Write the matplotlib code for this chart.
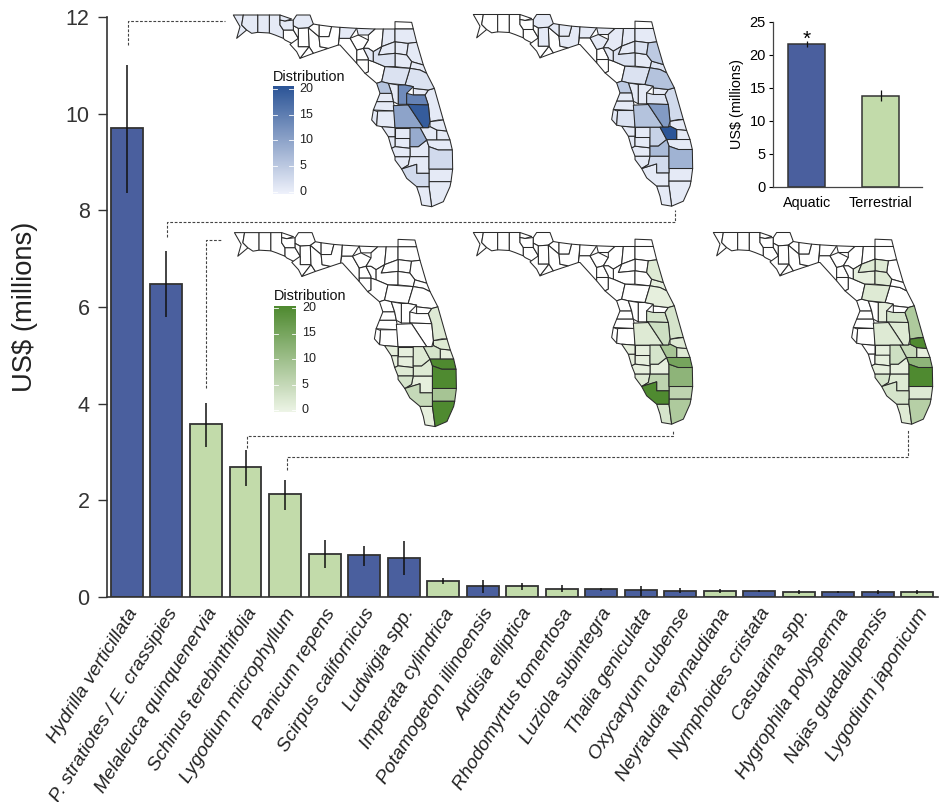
import numpy as np
import matplotlib
matplotlib.use('Agg')
import matplotlib.pyplot as plt
from matplotlib.collections import PolyCollection
from matplotlib.colors import LinearSegmentedColormap

plt.rcParams['font.family'] = ['Liberation Sans', 'DejaVu Sans']

# main bar chart
species = ['Hydrilla verticillata', 'P. stratiotes / E. crassipies', 'Melaleuca quinquenervia',
           'Schinus terebinthifolia', 'Lygodium microphyllum', 'Panicum repens',
           'Scirpus californicus', 'Ludwigia spp.', 'Imperata cylindrica',
           'Potamogeton illinoensis', 'Ardisia elliptica', 'Rhodomyrtus tomentosa',
           'Luziola subintegra', 'Thalia geniculata', 'Oxycaryum cubense',
           'Neyraudia reynaudiana', 'Nymphoides cristata', 'Casuarina spp.',
           'Hygrophila polysperma', 'Najas guadalupensis', 'Lygodium japonicum']
cost = [9.7, 6.47, 3.57, 2.7, 2.13, 0.89, 0.87, 0.8, 0.33, 0.22, 0.22,
        0.17, 0.16, 0.14, 0.13, 0.12, 0.12, 0.1, 0.1, 0.1, 0.1]
err_low = [8.35, 5.8, 3.1, 2.3, 1.8, 0.6, 0.65, 0.45, 0.27, 0.08, 0.15,
           0.1, 0.13, 0.03, 0.08, 0.08, 0.1, 0.07, 0.08, 0.06, 0.06]
err_high = [11.0, 7.15, 4.02, 3.05, 2.43, 1.18, 1.05, 1.15, 0.4, 0.35, 0.28,
            0.24, 0.19, 0.22, 0.19, 0.17, 0.14, 0.15, 0.13, 0.14, 0.14]
habitat = ['a', 'a', 't', 't', 't', 't', 'a', 'a', 't', 'a', 't',
           't', 'a', 'a', 'a', 't', 'a', 't', 'a', 'a', 't']

# inset
inset_groups = ['Aquatic', 'Terrestrial']
inset_cost = [21.6, 13.8]
inset_err = [0.5, 0.8]

BLUE = '#4A5F9E'
GREEN = '#C2DBAA'
EDGE = '#333333'

# simplified county shapes, map units
counties = {
    'Escambia': [(25,30),(55,30),(50,60),(65,75),(35,100),(45,65)],
    'SantaRosa': [(55,30),(98,30),(98,82),(80,85),(65,75),(50,60)],
    'Okaloosa': [(98,30),(133,30),(133,84),(98,82)],
    'Walton': [(133,30),(165,30),(165,60),(175,75),(175,100),(150,90),(133,84)],
    'Holmes': [(165,30),(200,42),(180,48),(165,45)],
    'Washington': [(165,45),(180,48),(205,45),(205,75),(175,75),(165,60)],
    'Bay': [(175,75),(205,75),(220,100),(220,125),(180,105),(175,100)],
    'Jackson': [(205,45),(215,30),(255,30),(265,57),(250,68),(220,70),(205,62)],
    'Calhoun': [(205,62),(220,70),(220,100),(205,75)],
    'Liberty': [(220,70),(250,68),(252,125),(220,125)],
    'Gulf': [(220,100),(220,125),(252,125),(225,160),(215,140),(195,118)],
    'Franklin': [(252,125),(265,145),(225,160)],
    'Gadsden': [(250,68),(265,57),(282,60),(282,95)],
    'Leon': [(282,60),(320,65),(312,95),(282,95)],
    'Wakulla': [(252,125),(250,68),(282,95),(285,125),(310,130),(265,145)],
    'Jefferson': [(320,65),(345,67),(340,120),(310,130),(285,125),(282,95),(312,95)],
    'Madison': [(345,67),(395,70),(375,100),(343,100)],
    'Taylor': [(343,100),(375,100),(395,135),(395,175),(345,120),(340,120)],
    'Hamilton': [(395,70),(450,72),(430,90),(400,90)],
    'Suwannee': [(375,100),(400,90),(430,105),(415,130),(395,135)],
    'Lafayette': [(395,135),(415,130),(430,160),(430,165),(395,165)],
    'Dixie': [(395,165),(430,165),(430,200),(420,205),(395,175)],
    'Columbia': [(430,90),(450,72),(475,72),(470,125),(445,140),(430,130),(415,130),(430,105)],
    'Baker': [(475,72),(510,72),(510,110),(470,125)],
    'Nassau': [(510,72),(510,50),(560,52),(565,72)],
    'Duval': [(510,72),(565,72),(575,112),(550,115),(510,110)],
    'Clay': [(510,110),(550,115),(545,150),(510,145)],
    'StJohns': [(550,115),(575,112),(595,180),(560,170),(545,150)],
    'Bradford': [(470,125),(510,110),(510,145),(460,150)],
    'Gilchrist': [(430,130),(445,140),(445,170),(430,165),(430,160),(415,130)],
    'Alachua': [(445,140),(470,125),(460,150),(510,145),(510,185),(480,185),(445,170)],
    'Levy': [(430,165),(445,170),(480,185),(470,230),(455,235),(420,205),(430,200)],
    'Putnam': [(510,145),(545,150),(560,170),(555,190),(510,185)],
    'Flagler': [(560,170),(595,180),(605,205),(585,195),(555,190)],
    'Marion': [(480,185),(555,190),(540,240),(490,235),(470,230)],
    'Volusia': [(555,190),(585,195),(605,205),(628,250),(610,255),(565,250),(565,245),(540,240)],
    'Citrus': [(455,235),(470,230),(490,235),(500,265),(465,265)],
    'Hernando': [(465,265),(500,265),(505,290),(455,290)],
    'Sumter': [(490,235),(520,240),(520,298),(505,290),(500,265)],
    'Lake': [(520,240),(540,240),(565,245),(545,265),(545,298),(520,298)],
    'Seminole': [(565,250),(610,255),(600,270),(565,270)],
    'Orange': [(545,265),(565,270),(600,270),(610,300),(545,298)],
    'Brevard': [(610,255),(628,250),(655,345),(640,345),(615,350),(610,300),(600,270)],
    'Osceola': [(545,298),(610,300),(615,350),(610,368),(595,368),(550,300)],
    'Pasco': [(455,290),(505,290),(510,318),(445,315)],
    'Pinellas': [(445,315),(458,320),(455,362),(440,345)],
    'Hillsborough': [(458,318),(510,318),(510,368),(470,365),(455,362)],
    'Polk': [(505,302),(550,300),(595,368),(510,368)],
    'Manatee': [(470,365),(510,368),(510,395),(490,395)],
    'Sarasota': [(490,395),(510,395),(510,425),(500,430)],
    'Hardee': [(510,368),(555,368),(555,398),(510,398)],
    'DeSoto': [(510,398),(555,398),(555,430),(510,425)],
    'Highlands': [(555,368),(585,368),(605,405),(580,425),(555,425)],
    'Okeechobee': [(595,368),(610,368),(615,365),(635,375),(635,405),(605,405),(585,368)],
    'IndianRiver': [(615,350),(655,345),(665,378),(635,375),(615,365)],
    'StLucie': [(635,375),(665,378),(675,405),(635,405)],
    'Martin': [(605,405),(675,405),(682,435),(640,435),(612,425)],
    'PalmBeach': [(612,425),(640,435),(682,435),(683,492),(612,492)],
    'Glades': [(555,425),(580,425),(605,405),(612,425),(612,455),(555,455)],
    'Charlotte': [(500,430),(510,425),(555,430),(555,455),(510,455)],
    'Hendry': [(555,455),(612,455),(612,505),(575,505),(575,478),(530,492),(550,480)],
    'Lee': [(510,455),(555,455),(550,480),(530,492),(510,465)],
    'Collier': [(530,492),(575,478),(575,505),(612,505),(612,545),(575,545),(545,520)],
    'Broward': [(612,492),(683,492),(678,530),(612,530)],
    'Dade': [(612,530),(678,530),(675,545),(655,590),(620,605),(612,545)],
    'Monroe': [(575,545),(612,545),(620,605),(590,600),(585,575)],
}

# distribution counts per map
west_pale = ['Escambia', 'SantaRosa', 'Okaloosa', 'Walton', 'Holmes', 'Washington', 'Jackson',
             'Madison', 'Hamilton', 'Duval', 'Clay', 'Putnam', 'StJohns', 'Flagler', 'Baker',
             'Bradford', 'Gilchrist', 'Hernando', 'Pasco', 'Hillsborough', 'Pinellas', 'Manatee',
             'Sarasota', 'Hardee', 'DeSoto', 'Glades', 'Charlotte', 'Lee', 'Hendry', 'Broward',
             'Dade', 'Monroe', 'Okeechobee', 'IndianRiver', 'StLucie', 'Martin', 'Sumter', 'Seminole']
map_hydrilla = dict.fromkeys(west_pale, 1)
map_hydrilla.update({'Citrus': 6, 'Lake': 13, 'Orange': 14, 'Osceola': 19, 'Polk': 10,
                     'Highlands': 9, 'PalmBeach': 3, 'Collier': 3, 'Marion': 2, 'Volusia': 2,
                     'Alachua': 2, 'Brevard': 1})
pale_2 = [c for c in counties if c not in ('Escambia', 'SantaRosa', 'Okaloosa', 'Walton', 'Holmes',
                                           'Washington', 'Bay', 'Calhoun', 'Gulf', 'Franklin',
                                           'Wakulla', 'Taylor', 'Dixie', 'Levy', 'Lafayette', 'Nassau')]
map_pistia = dict.fromkeys(pale_2, 1)
map_pistia.update({'Jackson': 1, 'StJohns': 5, 'Volusia': 6, 'Flagler': 2, 'Osceola': 11, 'Polk': 6,
                   'Okeechobee': 20, 'Highlands': 4, 'PalmBeach': 8, 'Glades': 7, 'Hendry': 3,
                   'Citrus': 5, 'Hillsborough': 2, 'Marion': 2, 'Brevard': 3, 'Clay': 2,
                   'Alachua': 2, 'Orange': 2, 'Pasco': 1, 'Lake': 1})
map_melaleuca = {'PalmBeach': 20, 'Martin': 20, 'Broward': 9, 'Dade': 20, 'Collier': 5, 'Lee': 3,
                 'Charlotte': 2, 'Hendry': 1, 'Highlands': 2, 'Okeechobee': 3, 'StLucie': 1,
                 'Brevard': 2, 'IndianRiver': 2, 'Monroe': 1, 'Glades': 2, 'DeSoto': 1, 'Hardee': 1,
                 'Sarasota': 1, 'Manatee': 1}
map_schinus = {'Collier': 20, 'PalmBeach': 12, 'Martin': 15, 'Broward': 6, 'Dade': 8, 'Hendry': 6,
               'Okeechobee': 9, 'Highlands': 3, 'StLucie': 2, 'IndianRiver': 2, 'Osceola': 4,
               'Brevard': 3, 'Polk': 2, 'Hardee': 1, 'Lee': 2, 'Sarasota': 1, 'StJohns': 2,
               'Volusia': 1, 'Flagler': 1, 'Monroe': 3, 'Orange': 3, 'Glades': 1, 'DeSoto': 1,
               'Charlotte': 1, 'Manatee': 1}
map_lygodium = {'IndianRiver': 20, 'PalmBeach': 20, 'Martin': 12, 'Okeechobee': 5, 'Brevard': 8,
                'Broward': 2, 'Dade': 7, 'Highlands': 4, 'Collier': 3, 'Hendry': 2, 'Lee': 3,
                'Polk': 2, 'Osceola': 2, 'Orange': 3, 'Marion': 2, 'Clay': 2, 'Putnam': 2,
                'Bradford': 2, 'Alachua': 1, 'Monroe': 2, 'Hardee': 1, 'DeSoto': 1, 'Glades': 1,
                'Charlotte': 1, 'Lake': 1, 'StLucie': 1}

cmap_blue = LinearSegmentedColormap.from_list('b', ['#EEF1FB', '#2C5597'])
cmap_green = LinearSegmentedColormap.from_list('g', ['#EDF4E6', '#4F8A30'])

fig = plt.figure(figsize=(9.39, 8.02), dpi=100)
W, H = 939.0, 802.0


def px_axes(x0, y_top, x1, y_bot, **kw):
    return fig.add_axes([x0 / W, 1 - y_bot / H, (x1 - x0) / W, (y_bot - y_top) / H], **kw)


# --- main chart ---
ax = px_axes(107, 17, 938, 597)
x = np.arange(len(species))
colors = [BLUE if h == 'a' else GREEN for h in habitat]
ax.bar(x, cost, width=0.81, color=colors, edgecolor=EDGE, linewidth=1.3, zorder=2)
ax.vlines(x, err_low, err_high, color='#111111', linewidth=1.1, zorder=3)
ax.set_xlim(-0.506, 20.53)
ax.set_ylim(0, 12)
ax.set_yticks(range(0, 13, 2))
ax.tick_params(axis='y', length=6.5, width=1.0, labelsize=15.5, pad=6, color='#333333', labelcolor='#333333')
ax.tick_params(axis='x', length=0, pad=6)
ax.set_xticks(x)
ax.set_xticklabels(species, rotation=58, ha='right', va='top', rotation_mode='anchor',
                   fontsize=13.9, style='italic', color='#222222')
for s in ['top', 'right']:
    ax.spines[s].set_visible(False)
for s in ['left', 'bottom']:
    ax.spines[s].set_linewidth(1.2)
    ax.spines[s].set_color('#333333')
ax.patch.set_alpha(0)
fig.text(25 / W, 1 - 307 / H, 'US$ (millions)', rotation=90, fontsize=19.7, color='#222222',
         ha='center', va='center')

# --- overlay in pixels for maps and connectors ---
ov = fig.add_axes([0, 0, 1, 1], zorder=5)
ov.set_xlim(0, W)
ov.set_ylim(H, 0)
ov.axis('off')
ov.patch.set_alpha(0)


def draw_map(ox, oy, scale, values, cmap):
    polys, faces = [], []
    for name, pts in counties.items():
        polys.append([(ox + scale * a / 3, oy + scale * b / 3) for a, b in pts])
        v = values.get(name)
        faces.append('white' if v is None else cmap(v / 20))
    order = np.argsort([values.get(n, -1) for n in counties])
    ov.add_collection(PolyCollection([polys[i] for i in order], facecolors=[faces[i] for i in order],
                                     edgecolors='#2A2A2A', linewidths=0.75))


draw_map(225, 5, 1.0, map_hydrilla, cmap_blue)
draw_map(465, 4.5, 1.0, map_pistia, cmap_blue)
draw_map(226, 222.5, 1.012, map_melaleuca, cmap_green)
draw_map(465, 222.5, 1.0, map_schinus, cmap_green)
draw_map(705, 222.5, 1.0, map_lygodium, cmap_green)


def legend_bar(x0, x1, y_top, y_bot, cmap):
    grad = np.linspace(1, 0, 100).reshape(-1, 1)
    ov.imshow(grad, cmap=cmap, vmin=0, vmax=1, extent=(x0, x1, y_bot, y_top), aspect='auto', zorder=3)
    for v in range(0, 21, 5):
        y = y_bot - 2 - (y_bot - y_top - 4) * v / 20
        ov.plot([x0, x0 + 4], [y, y], color='white', lw=0.6, zorder=4)
        ov.plot([x1 - 4, x1], [y, y], color='white', lw=0.6, zorder=4)
        ov.text(x1 + 6, y, str(v), fontsize=9, va='center', ha='left', color='#222222')
    ov.text(x0, y_top - 10, 'Distribution', fontsize=10.4, va='center', ha='left', color='#111111')


legend_bar(272.7, 293.3, 86.7, 194, cmap_blue)
legend_bar(274, 296, 306, 412, cmap_green)
ov.set_xlim(0, W)
ov.set_ylim(H, 0)

connectors = [
    ([128, 128, 225], [45, 21, 21]),
    ([167, 167, 675, 675], [237, 222, 222, 210]),
    ([206, 206, 222], [388, 240, 240]),
    ([247, 247, 673, 673], [448, 436, 436, 430]),
    ([287, 287, 908, 908], [470, 457, 457, 430]),
]
for cx, cy in connectors:
    ov.plot(cx, cy, color='#444444', lw=0.8, ls=(0, (2.5, 1.5)))

# --- inset bars ---
ins = px_axes(772.7, 21.7, 921.7, 186.7)
ins.bar([0, 1], inset_cost, width=0.5, color=[BLUE, GREEN], edgecolor=EDGE, linewidth=1.1, zorder=2)
ins.vlines([0, 1], np.subtract(inset_cost, inset_err), np.add(inset_cost, inset_err),
           color='#111111', linewidth=0.9, zorder=3)
ins.set_xlim(-0.46, 1.55)
ins.set_ylim(0, 25)
ins.set_yticks(range(0, 26, 5))
ins.set_xticks([0, 1])
ins.set_xticklabels(inset_groups, fontsize=10.4)
ins.tick_params(axis='y', length=3, width=0.8, labelsize=10.5, pad=2)
ins.tick_params(axis='x', length=0, pad=7)
ins.set_ylabel('US$ (millions)', fontsize=10.4, labelpad=4)
for s in ['top', 'right']:
    ins.spines[s].set_visible(False)
for s in ['left', 'bottom']:
    ins.spines[s].set_linewidth(0.9)
    ins.spines[s].set_color('#444444')
ins.text(0, 22.4, '*', fontsize=15, ha='center', va='center')
ins.patch.set_alpha(0)
ins.set_zorder(6)

fig.savefig('out.png', dpi=100)
